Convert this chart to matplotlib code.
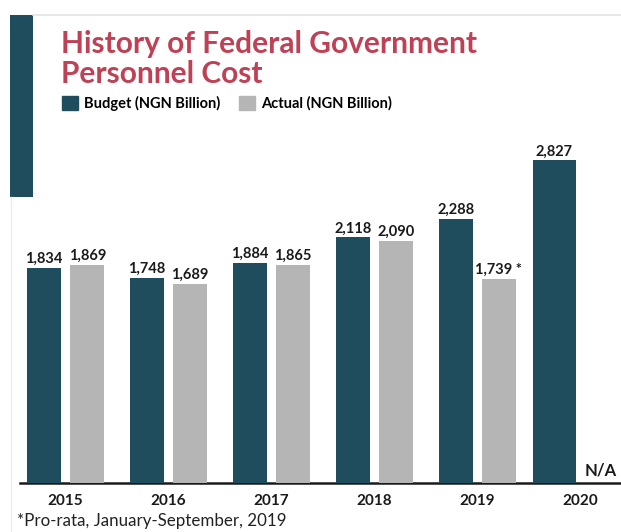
import numpy as np
import matplotlib
matplotlib.use("Agg")
import matplotlib.pyplot as plt
import matplotlib.patches as mpatches
from matplotlib.lines import Line2D

# --- Data ---
years = ["2015", "2016", "2017", "2018", "2019", "2020"]
budget = [1834, 1748, 1884, 2118, 2288, 2827]
actual = [1869, 1689, 1865, 2090, 1739, None]   # 2020 not available yet
actual_marks = ["", "", "", "", " *", ""]        # 2019 is pro-rata

TITLE = "History of Federal Government\nPersonnel Cost"
FOOTNOTE = "*Pro-rata, January-September, 2019"

# --- Colours ---
TEAL = "#1f4d5e"
GREY = "#b4b5b4"
RED = "#bf4155"
INK = "#1a1a1a"

plt.rcParams["font.family"] = ["Lato", "DejaVu Sans"]

W, H = 621, 532
fig = plt.figure(figsize=(W / 100, H / 100), dpi=100)
fig.patch.set_facecolor("white")

def fx(px):
    return px / W

def fy(py):
    return 1 - py / H

# plot area: floor line at y=483px, open space up to y=140px
ax = fig.add_axes([fx(20), fy(483), fx(621 - 20), (483 - 140) / H])

floor = -141
x = np.arange(len(years))
gap = 0.045
widths = [0.33, 0.33, 0.33, 0.33, 0.33, 0.41]

# budget bars sit left of each year, actual bars right
ax.bar(x - gap, [v - floor for v in budget], width=[-w for w in widths],
       bottom=floor, align="edge", color=TEAL, zorder=3)
for i, v in enumerate(budget):
    ax.annotate(f"{v:,}", xy=(x[i] - gap - widths[i] / 2, v), xytext=(0, 1.5),
                textcoords="offset points", ha="center", va="bottom",
                fontsize=10.5, fontweight="bold", color=INK)

for i, v in enumerate(actual):
    if v is None:
        ax.annotate("N/A", xy=(x[i] + gap, floor), xytext=(0, 3.5),
                    textcoords="offset points", ha="left", va="bottom",
                    fontsize=12, fontweight="bold", color=INK)
        continue
    ax.bar(x[i] + gap, v - floor, width=widths[i], bottom=floor,
           align="edge", color=GREY, zorder=3)
    ax.annotate(f"{v:,}{actual_marks[i]}", xy=(x[i] + gap + widths[i] / 2, v),
                xytext=(0, 1.5), textcoords="offset points", ha="center",
                va="bottom", fontsize=10.5, fontweight="bold", color=INK)

ax.set_xlim(-0.444, 5.397)
ax.set_ylim(floor, 3015)
ax.set_xticks(x)
ax.set_xticklabels(years, fontsize=11, fontweight="bold", color=INK)
ax.tick_params(axis="x", length=0, pad=8)
ax.set_yticks([])
for side in ("top", "left", "right"):
    ax.spines[side].set_visible(False)
ax.spines["bottom"].set_linewidth(1.8)
ax.spines["bottom"].set_color(INK)
ax.set_facecolor("none")

# --- Frame: thin grey rules with a teal accent block ---
fig.add_artist(Line2D([fx(33), 1], [fy(15), fy(15)], color="#e4e4e4", lw=1.2))
fig.add_artist(Line2D([fx(10.5), fx(10.5)], [fy(197), 0], color="#ececec", lw=1.0))
fig.add_artist(mpatches.Rectangle((fx(10), fy(197)), fx(23), (197 - 15) / H,
                                  transform=fig.transFigure, color=TEAL, lw=0))

# --- Title ---
fig.text(fx(61), fy(30), TITLE, ha="left", va="top", fontsize=21.5,
         fontweight="bold", color=RED, linespacing=1.08)

# --- Legend ---
handles = [mpatches.Patch(color=TEAL, label="Budget (NGN Billion)"),
           mpatches.Patch(color=GREY, label="Actual (NGN Billion)")]
fig.legend(handles=handles, loc="upper left", bbox_to_anchor=(fx(62), fy(96)),
           ncol=2, frameon=False, prop={"weight": "bold", "size": 10.5},
           handlelength=1.1, handleheight=1.1, handletextpad=0.4,
           columnspacing=1.3, borderpad=0, borderaxespad=0)

# --- Footnote ---
fig.text(fx(17), fy(521), FOOTNOTE, ha="left", va="center", fontsize=12.2,
         color="#222222")

fig.savefig("out.png", dpi=100)
